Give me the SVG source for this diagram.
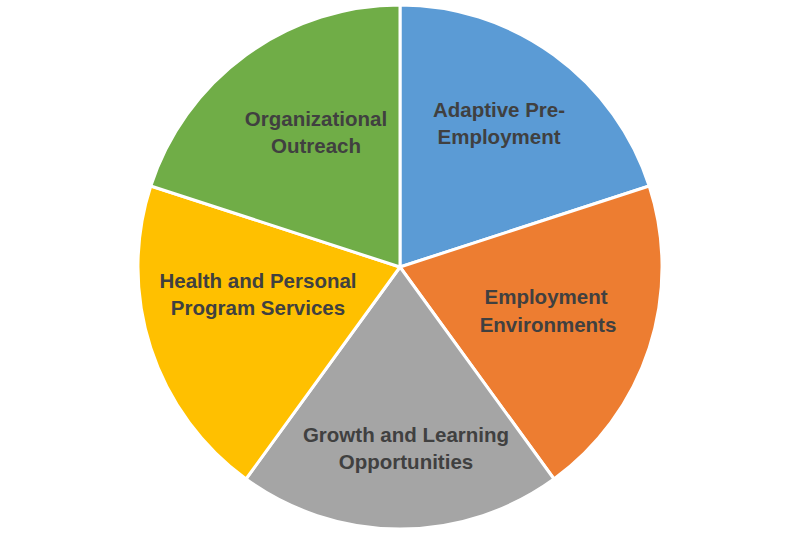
<svg xmlns="http://www.w3.org/2000/svg" width="800" height="533" viewBox="0 0 800 533">
<style>
.s{stroke:#fff;stroke-width:3;stroke-linejoin:round}
.t{font-family:"Liberation Sans",Arial,sans-serif;font-weight:bold;font-size:20.5px;fill:#404040;text-anchor:middle}
</style>
<rect width="800" height="533" fill="#fff"/>
<g id="adaptive">
<path class="s" fill="#5B9BD5" d="M400,267 L400,5 A262,262 0 0 1 649.2,186 Z"/>
<text class="t" x="499" y="117">Adaptive Pre-</text>
<text class="t" x="499" y="144">Employment</text>
</g>
<g id="employment">
<path class="s" fill="#ED7D31" d="M400,267 L649.2,186 A262,262 0 0 1 554,479 Z"/>
<text class="t" x="546" y="304">Employment</text>
<text class="t" x="548" y="332">Environments</text>
</g>
<g id="growth">
<path class="s" fill="#A5A5A5" d="M400,267 L554,479 A262,262 0 0 1 246,479 Z"/>
<text class="t" x="406" y="442">Growth and Learning</text>
<text class="t" x="406" y="469">Opportunities</text>
</g>
<g id="health">
<path class="s" fill="#FFC000" d="M400,267 L246,479 A262,262 0 0 1 150.8,186 Z"/>
<text class="t" x="258" y="288">Health and Personal</text>
<text class="t" x="258" y="315">Program Services</text>
</g>
<g id="outreach">
<path class="s" fill="#70AD47" d="M400,267 L150.8,186 A262,262 0 0 1 400,5 Z"/>
<text class="t" x="316" y="126">Organizational</text>
<text class="t" x="316" y="153">Outreach</text>
</g>
<g id="connectors"></g>
</svg>
